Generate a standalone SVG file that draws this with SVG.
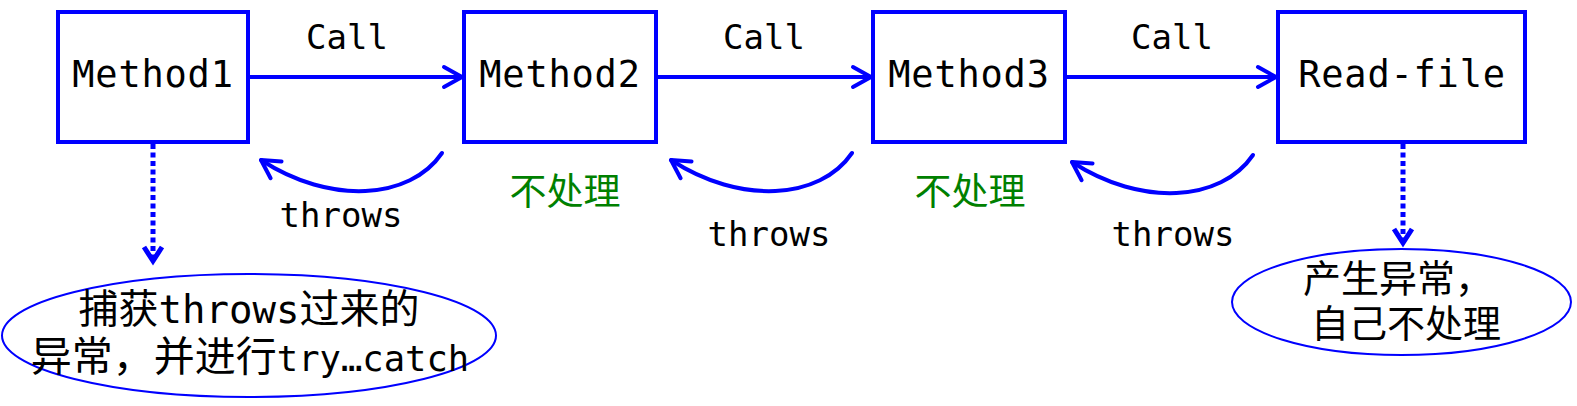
<svg xmlns="http://www.w3.org/2000/svg" width="1577" height="406" viewBox="0 0 1577 406">
<style>
.box{fill:#fff;stroke:#0000ff;stroke-width:4}
.mono{font-family:"DejaVu Sans Mono","Liberation Mono","Noto Sans CJK SC",monospace;fill:#000}
.lbl{font-size:37px;letter-spacing:0.8px;text-anchor:middle}
.edge{font-size:34px;text-anchor:middle}
.cjk{font-family:"Noto Sans CJK SC","DejaVu Sans",sans-serif}
.green{fill:#008000;font-size:37px;text-anchor:middle}
.conn{fill:none;stroke:#0000ff;stroke-width:4;stroke-linecap:round}
.dot{fill:none;stroke:#0000ff;stroke-width:5;stroke-dasharray:5 3.5}
.dhead{fill:none;stroke:#0000ff;stroke-width:5;stroke-linejoin:miter;stroke-linecap:butt}
.ell{fill:#fff;stroke:#0000ff;stroke-width:2}
</style>
<defs>
<marker id="ah" markerUnits="userSpaceOnUse" orient="auto" markerWidth="40" markerHeight="40" viewBox="-30 -20 40 40" refX="0" refY="0" overflow="visible">
<path d="M-18,-10 L0,0 L-18,10" fill="none" stroke="#0000ff" stroke-width="4" stroke-linecap="round" stroke-linejoin="round" stroke-dasharray="none"/>
</marker>
</defs>
<g id="connectors">
<path class="conn" d="M250,77 L462,77" marker-end="url(#ah)"/>
<path class="conn" d="M658,77 L871,77" marker-end="url(#ah)"/>
<path class="conn" d="M1067,77 L1276,77" marker-end="url(#ah)"/>
<path class="conn" d="M442,153 C410,200 330,205 261,160" marker-end="url(#ah)"/>
<path class="conn" d="M852,153 C820,200 740,205 671,160" marker-end="url(#ah)"/>
<path class="conn" d="M1253,155 C1221,202 1141,207 1072,162" marker-end="url(#ah)"/>
<path class="dot" d="M153,144 L153,258"/>
<path class="dhead" d="M144,247 L153,261 L162,247"/>
<path class="dot" d="M1403,144 L1403,240"/>
<path class="dhead" d="M1394,229 L1403,243 L1412,229"/>
<text class="mono edge" x="347" y="49">Call</text>
<text class="mono edge" x="764" y="49">Call</text>
<text class="mono edge" x="1172" y="49">Call</text>
<text class="mono edge" x="341" y="227">throws</text>
<text class="mono edge" x="769" y="246">throws</text>
<text class="mono edge" x="1173" y="246">throws</text>
<text class="cjk green" x="565" y="205">不处理</text>
<text class="cjk green" x="970" y="205">不处理</text>
</g>
<g id="method1">
<rect class="box" x="58" y="12" width="190" height="130"/>
<text class="mono lbl" x="153" y="87">Method1</text>
</g>
<g id="method2">
<rect class="box" x="464" y="12" width="192" height="130"/>
<text class="mono lbl" x="560" y="87">Method2</text>
</g>
<g id="method3">
<rect class="box" x="873" y="12" width="192" height="130"/>
<text class="mono lbl" x="969" y="87">Method3</text>
</g>
<g id="readfile">
<rect class="box" x="1278" y="12" width="247" height="130"/>
<text class="mono lbl" x="1402" y="87">Read-file</text>
</g>
<g id="catch-note">
<ellipse class="ell" cx="249" cy="335.5" rx="247" ry="61.5"/>
<text class="mono" x="249" y="323" text-anchor="middle" font-size="39"><tspan class="cjk" font-size="40">捕获</tspan>throws<tspan class="cjk" font-size="40">过来的</tspan></text>
<text class="mono" x="250" y="371" text-anchor="middle" font-size="35.5"><tspan class="cjk" font-size="41">异常，并进行</tspan>try…catch</text>
</g>
<g id="produce-note">
<ellipse class="ell" cx="1401.5" cy="302" rx="169.5" ry="53"/>
<text class="cjk" x="1303" y="292" font-size="38">产生异常，</text>
<text class="cjk" x="1311" y="337" font-size="38">自己不处理</text>
</g>
</svg>
